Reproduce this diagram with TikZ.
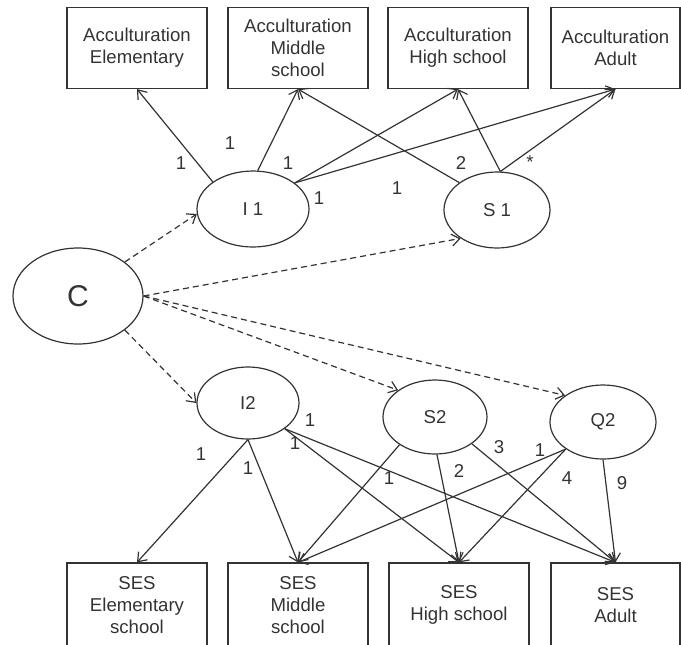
\documentclass[tikz,border=0pt]{standalone}
\usepackage{fontspec}
\setmainfont{Liberation Sans}
\usetikzlibrary{arrows.meta,shapes.geometric}
\definecolor{ink}{HTML}{333333}

\begin{document}
\begin{tikzpicture}[x=0.5pt,y=-0.5pt,>={Straight Barb[length=4pt,width=6pt]},
  line width=0.6pt,color=ink,font=\fontsize{9.3}{11}\selectfont,
  box/.style={draw,rectangle,minimum width=70pt,minimum height=40.5pt,align=center,inner sep=0pt},
  latent/.style={draw,ellipse,inner sep=0pt},
  lbl/.style={inner sep=0pt},
  effect/.style={->},
  cov/.style={->,dash pattern=on 3pt off 2pt}]
  \useasboundingbox (0,0) rectangle (681,644);

  % Acculturation indicators
  \node[box] (AE) at (137,48) {Acculturation\\Elementary};
  \node[box] (AM) at (298,48) {Acculturation\\Middle\\school};
  \node[box] (AH) at (458,48) {Acculturation\\High school};
  \node[box,minimum width=64.5pt] (AA) at (615.5,48) {Acculturation\\Adult};

  % latent factors
  \node[latent,minimum width=56pt,minimum height=38pt] (I1) at (253,209) {I 1};
  \node[latent,minimum width=53pt,minimum height=38pt] (S1) at (497,210) {S 1};
  \node[latent,minimum width=65pt,minimum height=48pt,font=\fontsize{15}{18}\selectfont] (C) at (78,296) {C};
  \node[latent,minimum width=51pt,minimum height=36pt] (I2) at (248,403) {I2};
  \node[latent,minimum width=52pt,minimum height=37pt] (S2) at (435,417) {S2};
  \node[latent,minimum width=53pt,minimum height=37pt] (Q2) at (603,422) {Q2};

  % SES indicators
  \node[box,minimum height=42pt] (SE) at (137,605) {SES\\Elementary\\school};
  \node[box,minimum height=42pt] (SM) at (298,605) {SES\\Middle\\school};
  \node[box,minimum height=42pt] (SH) at (459,605) {SES\\High school};
  \node[box,minimum height=42pt,minimum width=64.5pt] (SA) at (615.5,605) {SES\\Adult};

  % loadings, acculturation
  \draw[effect] (I1.146) -- (AE.south);
  \draw[effect] (I1.83) -- (AM.south);
  \draw[effect] (I1.32) -- (AH.south);
  \draw[effect] (I1.32) -- (AA.south);
  \draw[effect] (S1.144) -- (AM.south);
  \draw[effect] (S1.85) -- (AH.south);
  \draw[effect] (S1.85) -- (AA.south);

  % class effects
  \draw[cov] (C.36) -- (I1.185);
  \draw[cov] (C.east) -- (S1.218);
  \draw[cov] (C.324) -- (I2.west);
  \draw[cov] (C.east) -- (S2.144);
  \draw[cov] (C.east) -- (Q2.145);

  % loadings, SES
  \draw[effect] (I2.south) -- (SE.north);
  \draw[effect] (I2.south) -- (SM.north);
  \draw[effect] (I2.325) -- (SH.north);
  \draw[effect] (I2.325) -- (SA.north);
  \draw[effect] (S2.218) -- (SM.north);
  \draw[effect] (S2.273) -- (SH.north);
  \draw[effect] (S2.324) -- (SA.north);
  \draw[effect] (Q2.216) -- (SM.north);
  \draw[effect] (Q2.216) -- (SH.north);
  \draw[effect] (Q2.south) -- (SA.north);

  % loading values
  \foreach \x/\y/\w [count=\i] in {181/163/1, 230/143/1, 288/163/1, 319/198/1,
      397/188/1, 461/163/2, 530/162/*, 310/420/1, 295/443/1, 201/454/1,
      248/468/1, 389/478/1, 459/471/2, 499/447/3, 540/450/1, 567/478/4, 622/483/9}
    \node[lbl] (w\i) at (\x,\y) {\w};
\end{tikzpicture}
\end{document}
